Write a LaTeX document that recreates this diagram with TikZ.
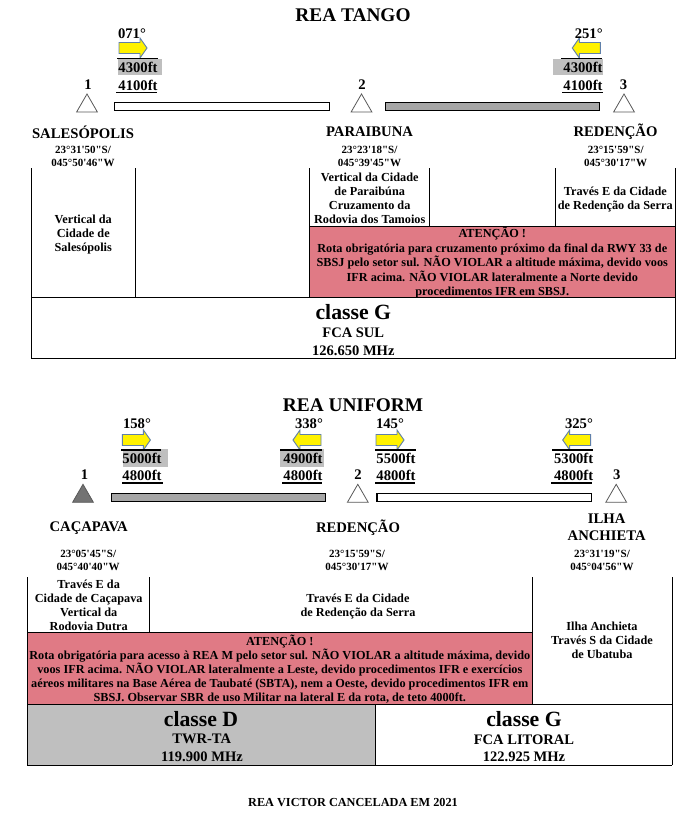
\documentclass[tikz,border=0pt]{standalone}
\usepackage{fontspec}
\newfontfamily\reafont{Liberation Serif}
\definecolor{atnred}{RGB}{224,122,133}
\definecolor{altgray}{RGB}{191,191,191}
\definecolor{bargray}{RGB}{166,166,166}
\definecolor{arrowblue}{RGB}{96,128,170}
\usetikzlibrary{shapes.geometric}

\begin{document}
\begin{tikzpicture}[
          x=0.75pt, y=-0.75pt,
          every node/.style={inner sep=0pt, outer sep=0pt, align=center, text=black},
          title/.style={font=\reafont\bfseries\fontsize{14.5}{16}\selectfont},
          fix/.style={font=\reafont\bfseries\fontsize{11}{13}\selectfont},
          coord/.style={font=\reafont\bfseries\fontsize{8.25}{9.7}\selectfont},
          cell/.style={font=\reafont\bfseries\fontsize{9.2}{10.5}\selectfont},
          atn/.style={font=\reafont\bfseries\fontsize{9.2}{10.9}\selectfont},
          alt/.style={font=\reafont\bfseries\fontsize{11}{13}\selectfont},
          classe/.style={font=\reafont\bfseries\fontsize{16.3}{18}\selectfont},
          freq/.style={font=\reafont\bfseries\fontsize{10.9}{13}\selectfont},
          wpt/.style={regular polygon, regular polygon sides=3, minimum size=18pt,
              draw=black!65, line width=0.6pt, fill=white},
          hdgr/.pic={\draw[draw=arrowblue, fill=yellow, line width=0.7pt]
              (-14,-5.5) -- (7,-5.5) -- (7,-10) -- (14,0) -- (7,10) -- (7,5.5) -- (-14,5.5) -- cycle;},
          hdgl/.pic={\draw[draw=arrowblue, fill=yellow, line width=0.7pt]
              (14,-5.5) -- (-7,-5.5) -- (-7,-10) -- (-14,0) -- (-7,10) -- (-7,5.5) -- (14,5.5) -- cycle;},
          grid/.style={black, line width=0.8pt},
          rule/.style={black, line width=1.1pt},
          bar/.style={draw=black, line width=0.8pt}
        ]
        \useasboundingbox (0,0) rectangle (689,821);

        % REA TANGO
        \node[title] (tangotitle) at (353,15) {REA TANGO};

        \fill[altgray] (118,59) rectangle (162,75);
        \fill[altgray] (553,59) rectangle (603,75);
        \pic (tarrow1) at (133,48) {hdgr};
        \pic (tarrow2) at (586.3,48) {hdgl};
        \node[alt] (thdg1) at (132,34) {071°};
        \node[alt] (thdg2) at (588.7,34) {251°};
        \draw[rule] (117,58.7) -- (158,58.7);
        \draw[rule] (561,58.7) -- (602,58.7);
        \node[alt] (tmax1) at (138,67) {4300ft};
        \node[alt] (tmax2) at (583,67) {4300ft};
        \node[alt] (tmin1) at (138,85) {4100ft};
        \node[alt] (tmin2) at (583,85) {4100ft};
        \draw[rule] (116,92.7) -- (157,92.7);
        \draw[rule] (562,92.7) -- (603,92.7);

        \node[alt] (tnum1) at (88,85) {1};
        \node[alt] (tnum2) at (362,85) {2};
        \node[alt] (tnum3) at (623.5,85) {3};
        \node[wpt] (twpt1) at (87,106) {};
        \node[wpt] (twpt2) at (361.5,106) {};
        \node[wpt] (twpt3) at (624,106) {};
        \draw[bar, fill=white] (114.7,102.5) rectangle (329.7,110.5);
        \draw[bar, fill=bargray] (385.3,102.5) rectangle (599.7,110.5);

        \node[fix] (tname1) at (83,132) {SALESÓPOLIS};
        \node[fix] (tname2) at (369.5,132) {PARAIBUNA};
        \node[fix] (tname3) at (615.5,132) {REDENÇÃO};
        \node[coord] (tpos1) at (83,156.7) {23°31'50"S/\\045°50'46"W};
        \node[coord] (tpos2) at (369.5,156.7) {23°23'18"S/\\045°39'45"W};
        \node[coord] (tpos3) at (615.7,156.7) {23°15'59"S/\\045°30'17"W};

        \fill[atnred] (309.4,226.3) rectangle (675.3,297.4);
        \draw[grid] (31.6,168) -- (31.6,359);
        \draw[grid] (135.5,168) -- (135.5,297.4);
        \draw[grid] (309.4,168) -- (309.4,297.4);
        \draw[grid] (429.3,168) -- (429.3,226.3);
        \draw[grid] (555.3,168) -- (555.3,226.3);
        \draw[grid] (675.3,168) -- (675.3,359);
        \draw[grid] (309.4,226.3) -- (675.3,226.3);
        \draw[grid] (31.6,297.4) -- (675.3,297.4);
        \draw[grid] (31.6,358.4) -- (675.3,358.4);

        \node[cell] (tcell1) at (83.3,235) {Vertical da\\Cidade de\\Salesópolis};
        \node[cell] (tcell2) at (369.7,198) {Vertical da Cidade\\de Paraibúna\\Cruzamento da\\Rodovia dos Tamoios};
        \node[cell] (tcell3) at (615.3,199) {Través E da Cidade\\de Redenção da Serra};
        \node[atn] (tatn) at (492.3,262.7) {ATENÇÃO !\\Rota obrigatória para cruzamento próximo da final da RWY 33 de\\SBSJ pelo setor sul. NÃO VIOLAR a altitude máxima, devido voos\\IFR acima. NÃO VIOLAR lateralmente a Norte devido\\procedimentos IFR em SBSJ.};

        \node[classe] (tclasse) at (353.3,312.3) {classe G};
        \node[freq] (tunit) at (353.3,333) {FCA SUL};
        \node[freq] (tfreq) at (353.3,350.5) {126.650 MHz};

        % REA UNIFORM
        \node[title] (unititle) at (353,405) {REA UNIFORM};

        \fill[altgray] (123,449) rectangle (167.7,467);
        \fill[altgray] (280,449) rectangle (324,467);
        \pic (uarrow1) at (136.4,440) {hdgr};
        \pic (uarrow2) at (307,440) {hdgl};
        \pic (uarrow3) at (390,440) {hdgr};
        \pic (uarrow4) at (576.7,440) {hdgl};
        \node[alt] (uhdg1) at (137,424) {158°};
        \node[alt] (uhdg2) at (309,424) {338°};
        \node[alt] (uhdg3) at (390,424) {145°};
        \node[alt] (uhdg4) at (579,424) {325°};
        \draw[rule] (121,450) -- (161,450);
        \draw[rule] (280,450) -- (322,450);
        \draw[rule] (375,450) -- (416,450);
        \draw[rule] (552,450) -- (593,450);
        \node[alt] (umax1) at (142,458) {5000ft};
        \node[alt] (umax2) at (303,458) {4900ft};
        \node[alt] (umax3) at (396,458) {5500ft};
        \node[alt] (umax4) at (573.7,458) {5300ft};
        \node[alt] (umin1) at (142,475) {4800ft};
        \node[alt] (umin2) at (303,475) {4800ft};
        \node[alt] (umin3) at (396,475) {4800ft};
        \node[alt] (umin4) at (573.7,475) {4800ft};
        \draw[rule] (122,483) -- (163,483);
        \draw[rule] (282,483) -- (322,483);
        \draw[rule] (375,483) -- (415,483);
        \draw[rule] (551,483) -- (592,483);

        \node[alt] (unum1) at (84.5,475) {1};
        \node[alt] (unum2) at (358,475) {2};
        \node[alt] (unum3) at (616.7,475) {3};
        \node[wpt, fill=black!55] (uwpt1) at (83,496.3) {};
        \node[wpt] (uwpt2) at (357.8,496.3) {};
        \node[wpt] (uwpt3) at (616.2,496.3) {};
        \draw[bar, fill=bargray] (111.3,493.4) rectangle (325.7,501.6);
        \draw[bar, fill=white] (377,493.4) rectangle (591.7,501.6);

        \node[fix] (uname1) at (88.7,527.7) {CAÇAPAVA};
        \node[fix] (uname2) at (358,527.7) {REDENÇÃO};
        \node[fix] (uname3) at (606.7,527) {ILHA\\ANCHIETA};
        \node[coord] (upos1) at (88.2,560.3) {23°05'45"S/\\045°40'40"W};
        \node[coord] (upos2) at (357,560.3) {23°15'59"S/\\045°30'17"W};
        \node[coord] (upos3) at (602,560.3) {23°31'19"S/\\045°04'56"W};

        \fill[atnred] (27.4,632.3) rectangle (532.3,704.3);
        \fill[altgray] (27.4,704.3) rectangle (375.3,765.3);
        \draw[grid] (27.4,577) -- (27.4,765.3);
        \draw[grid] (149.3,577) -- (149.3,633);
        \draw[grid] (532.3,577) -- (532.3,704.3);
        \draw[grid] (672.3,577) -- (672.3,765.3);
        \draw[grid] (375.3,704.3) -- (375.3,765.3);
        \draw[grid] (27.4,632.3) -- (532.3,632.3);
        \draw[grid] (27.4,704.3) -- (672.3,704.3);
        \draw[grid] (27.4,765.3) -- (672.3,765.3);

        \node[cell] (ucell1) at (88.7,605) {Través E da\\Cidade de Caçapava\\Vertical da\\Rodovia Dutra};
        \node[cell] (ucell2) at (358,606) {Través E da Cidade\\de Redenção da Serra};
        \node[cell] (ucell3) at (602,640.3) {Ilha Anchieta\\Través S da Cidade\\de Ubatuba};
        \node[cell] (uatn) at (279.8,669) {ATENÇÃO !\\Rota obrigatória para acesso à REA M pelo setor sul. NÃO VIOLAR a altitude máxima, devido\\voos IFR acima. NÃO VIOLAR lateralmente a Leste, devido procedimentos IFR e exercícios\\aéreos militares na Base Aérea de Taubaté (SBTA), nem a Oeste, devido procedimentos IFR em\\SBSJ. Observar SBR de uso Militar na lateral E da rota, de teto 4000ft.};

        \node[classe] (uclasse1) at (201,719) {classe D};
        \node[freq] (uunit1) at (201.7,739) {TWR-TA};
        \node[freq] (ufreq1) at (202,757) {119.900 MHz};
        \node[classe] (uclasse2) at (524,718.7) {classe G};
        \node[freq] (uunit2) at (524,740) {FCA LITORAL};
        \node[freq] (ufreq2) at (524,757) {122.925 MHz};

        \node[cell] (victor) at (353,803) {REA VICTOR CANCELADA EM 2021};
      \end{tikzpicture}
\end{document}
